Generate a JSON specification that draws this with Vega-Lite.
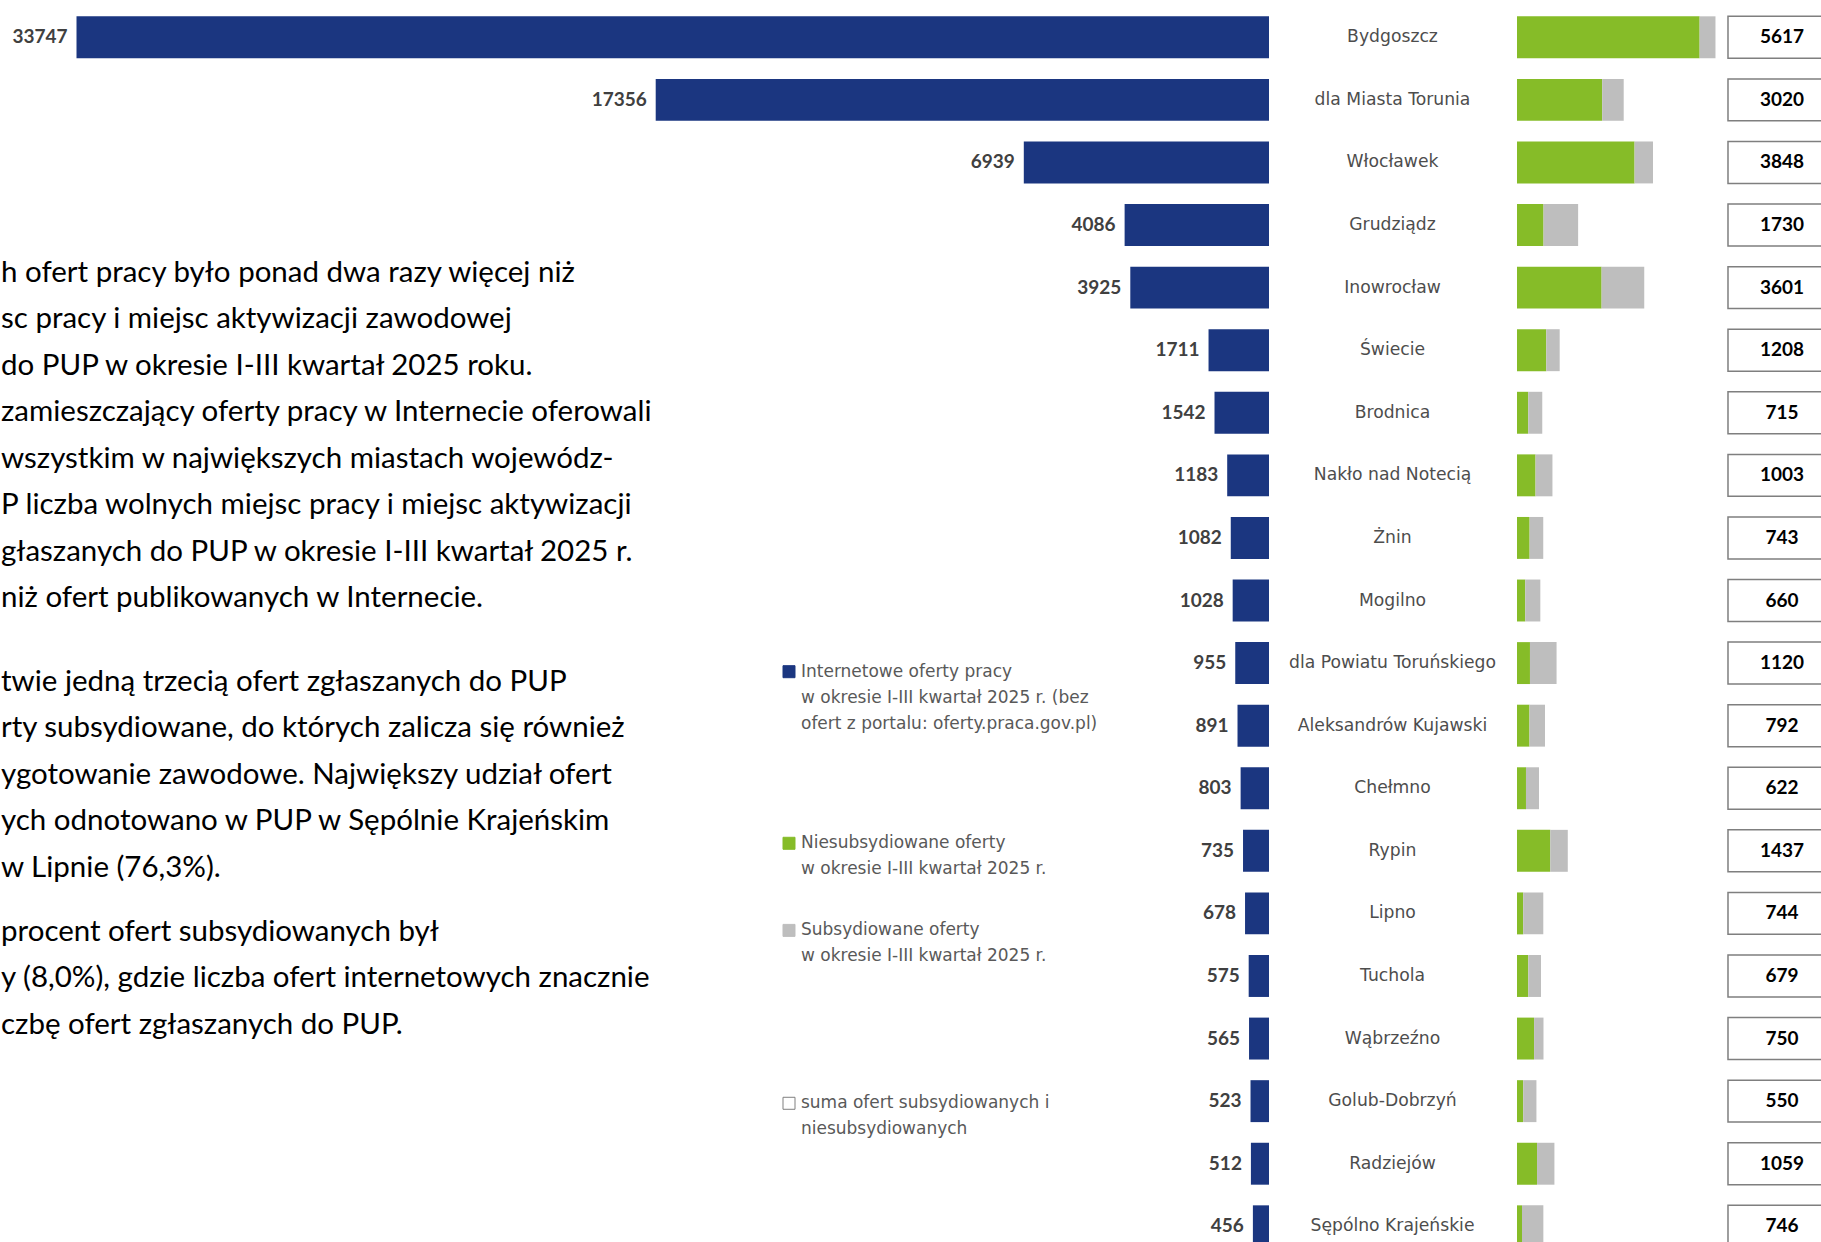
{
  "$schema": "https://vega.github.io/schema/vega-lite/v6.json",
  "width": 1821,
  "height": 1251.6,
  "padding": {"left": 0, "top": 6, "right": 0, "bottom": 0},
  "autosize": {"type": "none"},
  "background": "white",
  "config": {"view": {"stroke": null}},
  "datasets": {
    "miasta": [
      {"miasto": "Bydgoszcz", "internet": 33747, "niesub": 5168, "suma": 5617},
      {"miasto": "dla Miasta Torunia", "internet": 17356, "niesub": 2412, "suma": 3020},
      {"miasto": "Włocławek", "internet": 6939, "niesub": 3327, "suma": 3848},
      {"miasto": "Grudziądz", "internet": 4086, "niesub": 751, "suma": 1730},
      {"miasto": "Inowrocław", "internet": 3925, "niesub": 2394, "suma": 3601},
      {"miasto": "Świecie", "internet": 1711, "niesub": 828, "suma": 1208},
      {"miasto": "Brodnica", "internet": 1542, "niesub": 319, "suma": 715},
      {"miasto": "Nakło nad Notecią", "internet": 1183, "niesub": 525, "suma": 1003},
      {"miasto": "Żnin", "internet": 1082, "niesub": 357, "suma": 743},
      {"miasto": "Mogilno", "internet": 1028, "niesub": 233, "suma": 660},
      {"miasto": "dla Powiatu Toruńskiego", "internet": 955, "niesub": 367, "suma": 1120},
      {"miasto": "Aleksandrów Kujawski", "internet": 891, "niesub": 353, "suma": 792},
      {"miasto": "Chełmno", "internet": 803, "niesub": 254, "suma": 622},
      {"miasto": "Rypin", "internet": 735, "niesub": 942, "suma": 1437},
      {"miasto": "Lipno", "internet": 678, "niesub": 176, "suma": 744},
      {"miasto": "Tuchola", "internet": 575, "niesub": 320, "suma": 679},
      {"miasto": "Wąbrzeźno", "internet": 565, "niesub": 484, "suma": 750},
      {"miasto": "Golub-Dobrzyń", "internet": 523, "niesub": 177, "suma": 550},
      {"miasto": "Radziejów", "internet": 512, "niesub": 567, "suma": 1059},
      {"miasto": "Sępólno Krajeńskie", "internet": 456, "niesub": 142, "suma": 746}
    ],
    "akapity": [
      {"wiersz": 0, "tekst": "h ofert pracy było ponad dwa razy więcej niż"},
      {"wiersz": 1, "tekst": "sc pracy i miejsc aktywizacji zawodowej"},
      {"wiersz": 2, "tekst": "do PUP w okresie I-III kwartał 2025 roku."},
      {"wiersz": 3, "tekst": "zamieszczający oferty pracy w Internecie oferowali"},
      {"wiersz": 4, "tekst": "\u00a0\u00a0wszystkim w największych miastach wojewódz-"},
      {"wiersz": 5, "tekst": "P liczba wolnych miejsc pracy i miejsc aktywizacji"},
      {"wiersz": 6, "tekst": "głaszanych do PUP w okresie I-III kwartał 2025 r."},
      {"wiersz": 7, "tekst": "niż ofert publikowanych w Internecie."},
      {"wiersz": 8.8, "tekst": "twie jedną trzecią ofert zgłaszanych do PUP"},
      {"wiersz": 9.8, "tekst": "rty subsydiowane, do których zalicza się również"},
      {"wiersz": 10.8, "tekst": "ygotowanie zawodowe. Największy udział ofert"},
      {"wiersz": 11.8, "tekst": "ych odnotowano w PUP w Sępólnie Krajeńskim"},
      {"wiersz": 12.8, "tekst": "w Lipnie (76,3%)."},
      {"wiersz": 14.18, "tekst": "procent ofert subsydiowanych był"},
      {"wiersz": 15.18, "tekst": "y (8,0%), gdzie liczba ofert internetowych znacznie"},
      {"wiersz": 16.18, "tekst": "czbę ofert zgłaszanych do PUP."}
    ],
    "znaczniki": [
      {"seria": "internet", "wiersz": 0},
      {"seria": "niesub", "wiersz": 6.6},
      {"seria": "sub", "wiersz": 9.95},
      {"seria": "suma", "wiersz": 16.6}
    ],
    "legenda": [
      {"seria": "internet", "wiersz": 0, "tekst": "Internetowe oferty pracy"},
      {"seria": "internet", "wiersz": 1, "tekst": "w okresie I-III kwartał 2025 r. (bez"},
      {"seria": "internet", "wiersz": 2, "tekst": "ofert z portalu: oferty.praca.gov.pl)"},
      {"seria": "niesub", "wiersz": 6.6, "tekst": "Niesubsydiowane oferty"},
      {"seria": "niesub", "wiersz": 7.6, "tekst": "w okresie I-III kwartał 2025 r."},
      {"seria": "sub", "wiersz": 9.95, "tekst": "Subsydiowane oferty"},
      {"seria": "sub", "wiersz": 10.95, "tekst": "w okresie I-III kwartał 2025 r."},
      {"seria": "suma", "wiersz": 16.6, "tekst": "suma ofert subsydiowanych i"},
      {"seria": "suma", "wiersz": 17.6, "tekst": "niesubsydiowanych"}
    ]
  },
  "layer": [
    {
      "data": {"name": "miasta"},
      "mark": {"type": "bar", "color": "#1B3680"},
      "encoding": {
        "y": {"field": "miasto", "type": "nominal", "sort": null, "scale": {"type": "band", "paddingInner": 0.33, "paddingOuter": 0.165}, "axis": null},
        "x": {"field": "internet", "type": "quantitative", "scale": {"domain": [0, 35912], "range": [1269, 0], "nice": false, "zero": true}, "axis": null}
      }
    },
    {
      "data": {"name": "miasta"},
      "mark": {"type": "text", "align": "right", "baseline": "middle", "dx": -9, "font": "Lato", "fontWeight": "bold", "fontSize": 19, "color": "#404040"},
      "encoding": {
        "y": {"field": "miasto", "type": "nominal", "sort": null, "scale": {"type": "band", "paddingInner": 0.33, "paddingOuter": 0.165}, "axis": null},
        "x": {"field": "internet", "type": "quantitative", "scale": {"domain": [0, 35912], "range": [1269, 0], "nice": false, "zero": true}, "axis": null},
        "text": {"field": "internet", "type": "quantitative", "format": "d"}
      }
    },
    {
      "data": {"name": "miasta"},
      "mark": {"type": "text", "align": "center", "baseline": "middle", "font": "DejaVu Sans", "fontSize": 17.2, "color": "#4D4D4D"},
      "encoding": {
        "y": {"field": "miasto", "type": "nominal", "sort": null, "scale": {"type": "band", "paddingInner": 0.33, "paddingOuter": 0.165}, "axis": null},
        "x": {"datum": "nazwa", "type": "nominal", "scale": {"type": "point", "domain": ["nazwa"], "range": [1290, 1495], "padding": 0.5}, "axis": null},
        "text": {"field": "miasto", "type": "nominal"}
      }
    },
    {
      "data": {"name": "miasta"},
      "mark": {"type": "bar", "color": "#86BC28"},
      "encoding": {
        "y": {"field": "miasto", "type": "nominal", "sort": null, "scale": {"type": "band", "paddingInner": 0.33, "paddingOuter": 0.165}, "axis": null},
        "x": {"field": "niesub", "type": "quantitative", "scale": {"domain": [0, 10000], "range": [1517, 1870.37], "nice": false, "zero": true}, "axis": null}
      }
    },
    {
      "data": {"name": "miasta"},
      "mark": {"type": "bar", "color": "#BEBEBE"},
      "encoding": {
        "y": {"field": "miasto", "type": "nominal", "sort": null, "scale": {"type": "band", "paddingInner": 0.33, "paddingOuter": 0.165}, "axis": null},
        "x": {"field": "niesub", "type": "quantitative", "scale": {"domain": [0, 10000], "range": [1517, 1870.37], "nice": false, "zero": true}, "axis": null},
        "x2": {"field": "suma"}
      }
    },
    {
      "data": {"name": "miasta"},
      "mark": {"type": "rect", "fill": "white", "stroke": "#7F7F7F", "strokeWidth": 1.5},
      "encoding": {
        "y": {"field": "miasto", "type": "nominal", "sort": null, "scale": {"type": "band", "paddingInner": 0.33, "paddingOuter": 0.165}, "axis": null},
        "x": {"datum": "suma", "type": "nominal", "scale": {"type": "band", "domain": ["suma"], "range": [1728, 1836], "paddingInner": 0, "paddingOuter": 0}, "axis": null}
      }
    },
    {
      "data": {"name": "miasta"},
      "mark": {"type": "text", "align": "center", "baseline": "middle", "font": "Lato", "fontWeight": "bold", "fontSize": 19, "color": "#000000"},
      "encoding": {
        "y": {"field": "miasto", "type": "nominal", "sort": null, "scale": {"type": "band", "paddingInner": 0.33, "paddingOuter": 0.165}, "axis": null},
        "x": {"datum": "suma", "type": "nominal", "bandPosition": 0.5, "scale": {"type": "band", "domain": ["suma"], "range": [1728, 1836], "paddingInner": 0, "paddingOuter": 0}, "axis": null},
        "text": {"field": "suma", "type": "quantitative", "format": "d"}
      }
    },
    {
      "data": {"name": "akapity"},
      "mark": {"type": "text", "align": "left", "baseline": "middle", "font": "Lato", "fontSize": 29.5, "color": "#000000"},
      "encoding": {
        "y": {"field": "wiersz", "type": "quantitative", "scale": {"domain": [0, 20], "range": [267, 1196], "nice": false, "zero": false}, "axis": null},
        "x": {"datum": "akapit", "type": "nominal", "scale": {"type": "point", "domain": ["akapit"], "range": [0, 2], "padding": 0.5}, "axis": null},
        "text": {"field": "tekst", "type": "nominal"}
      }
    },
    {
      "data": {"name": "znaczniki"},
      "mark": {"type": "square", "size": 144, "filled": true, "opacity": 1, "strokeWidth": 1},
      "encoding": {
        "y": {"field": "wiersz", "type": "quantitative", "scale": {"domain": [0, 20], "range": [665.7, 1185.7], "nice": false, "zero": false}, "axis": null},
        "x": {"datum": "znacznik", "type": "nominal", "scale": {"type": "point", "domain": ["znacznik", "opis"], "range": [789, 801], "padding": 0}, "axis": null},
        "fill": {"field": "seria", "type": "nominal", "scale": {"domain": ["internet", "niesub", "sub", "suma"], "range": ["#1B3680", "#86BC28", "#BEBEBE", "#FFFFFF"]}, "legend": null},
        "stroke": {"field": "seria", "type": "nominal", "scale": {"domain": ["internet", "niesub", "sub", "suma"], "range": ["#1B3680", "#86BC28", "#BEBEBE", "#7F7F7F"]}, "legend": null}
      }
    },
    {
      "data": {"name": "legenda"},
      "mark": {"type": "text", "align": "left", "baseline": "middle", "font": "DejaVu Sans", "fontSize": 17, "color": "#595959"},
      "encoding": {
        "y": {"field": "wiersz", "type": "quantitative", "scale": {"domain": [0, 20], "range": [665.7, 1185.7], "nice": false, "zero": false}, "axis": null},
        "x": {"datum": "opis", "type": "nominal", "scale": {"type": "point", "domain": ["znacznik", "opis"], "range": [789, 801], "padding": 0}, "axis": null},
        "text": {"field": "tekst", "type": "nominal"}
      }
    }
  ],
  "resolve": {"scale": {"x": "independent", "y": "independent", "fill": "independent", "stroke": "independent"}}
}
